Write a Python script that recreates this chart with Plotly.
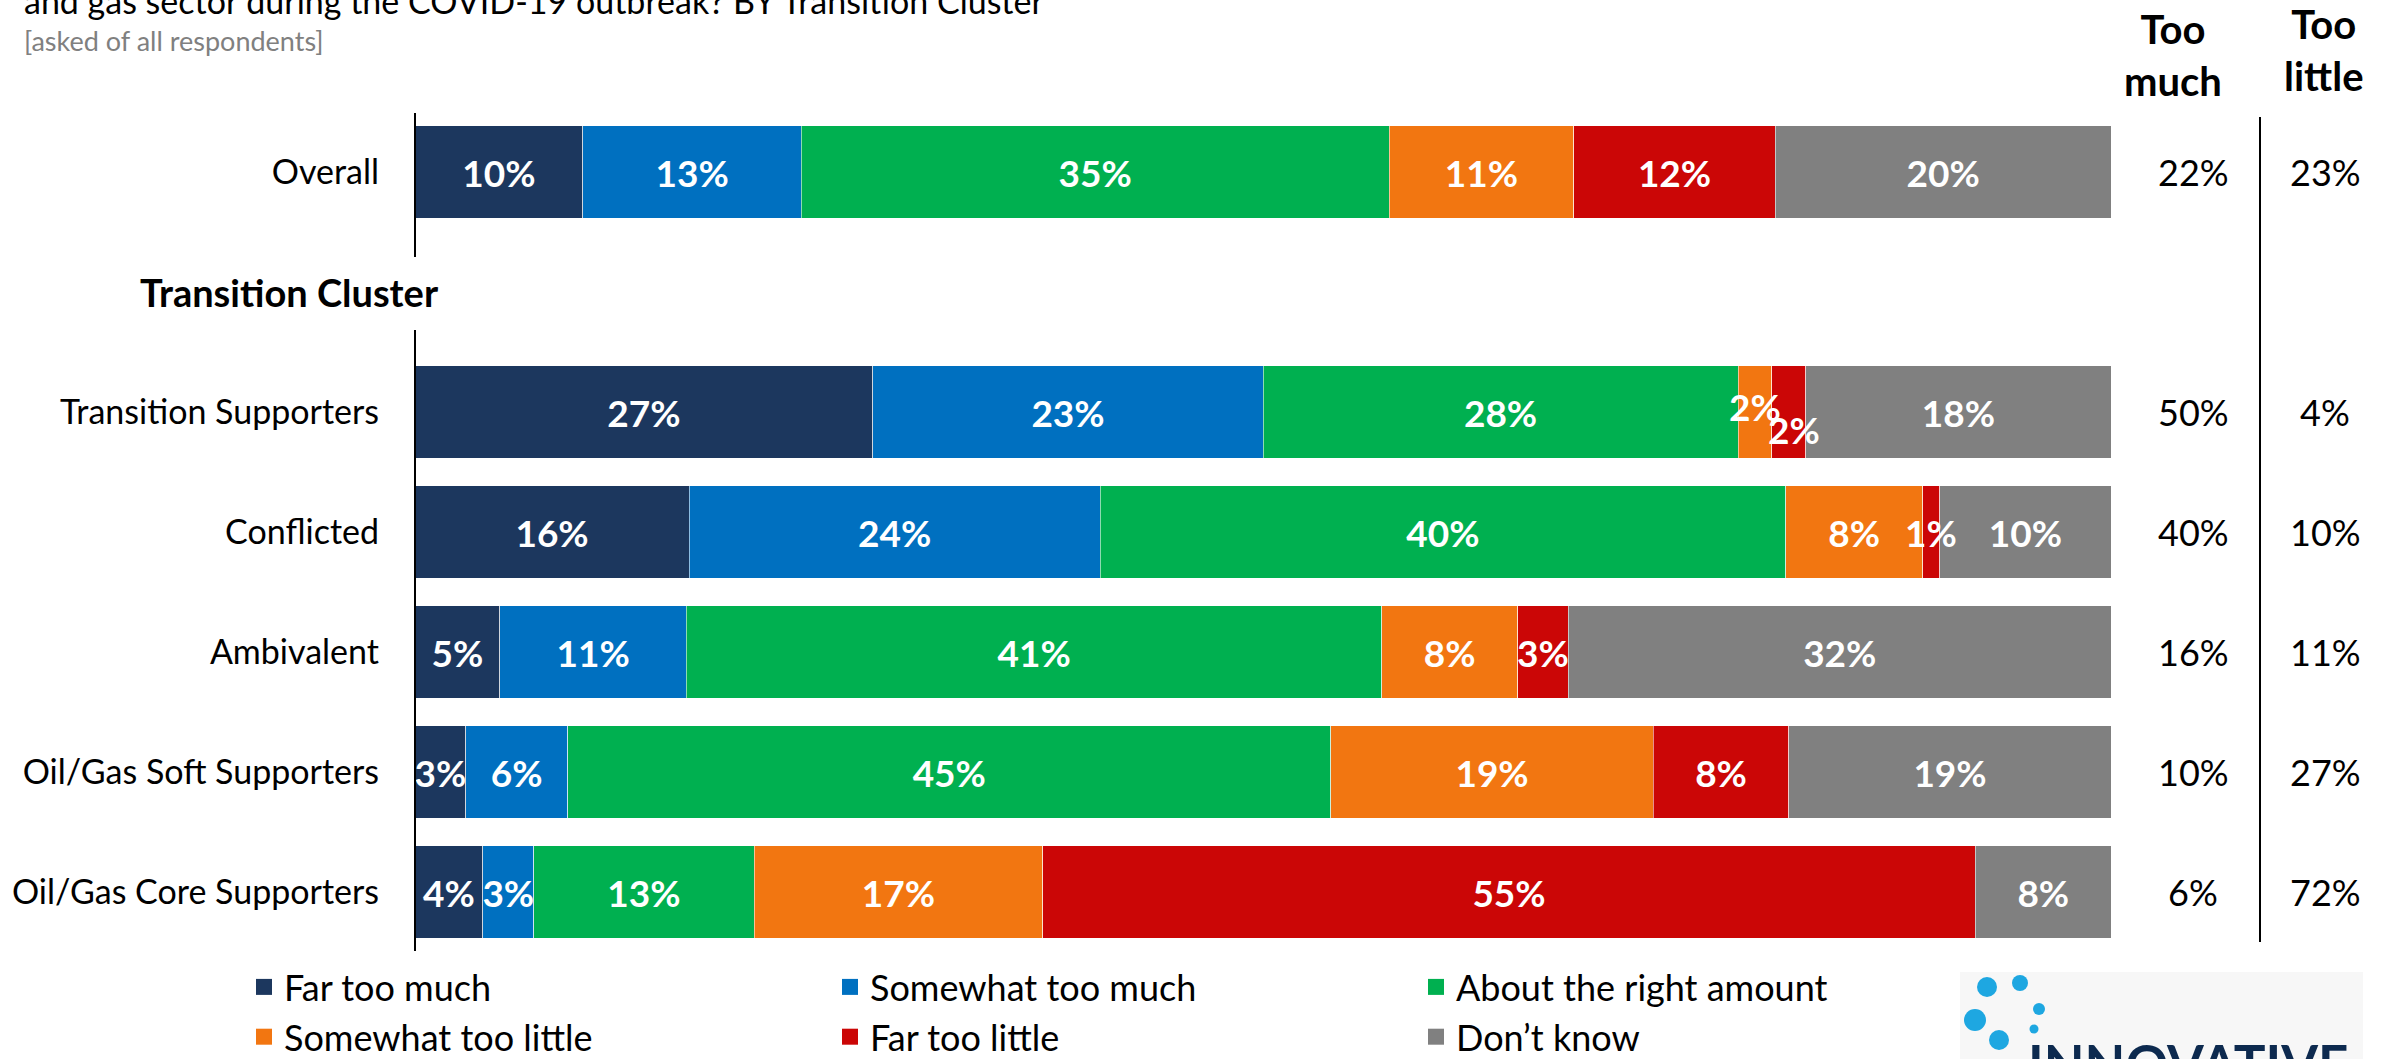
import plotly.graph_objects as go

# ---------------- data ----------------
categories = ["Overall", "Transition Supporters", "Conflicted", "Ambivalent",
              "Oil/Gas Soft Supporters", "Oil/Gas Core Supporters"]
row_pos = [0, 2, 3, 4, 5, 6]          # slot 1 holds the "Transition Cluster" heading

series_names = ["Far too much", "Somewhat too much", "About the right amount",
                "Somewhat too little", "Far too little", "Don\u2019t know"]
far_too_much = [10, 27, 16, 5, 3, 4]
somewhat_too_much = [13, 23, 24, 11, 6, 3]
about_right = [35, 28, 40, 41, 45, 13]
somewhat_too_little = [11, 2, 8, 8, 19, 17]
far_too_little = [12, 2, 1, 3, 8, 55]
dont_know = [20, 18, 10, 32, 19, 8]

too_much_total = [22, 50, 40, 16, 10, 6]
too_little_total = [23, 4, 10, 11, 27, 72]

title_text = "and gas sector during the COVID-19 outbreak? BY Transition Cluster"
subtitle_text = "[asked of all respondents]"
group_heading = "Transition Cluster"
col_headers = ["Too<br>much", "Too<br>little"]
logo_text = "INNOVATIVE"

# ---------------- style ----------------
colors = ["#1c375e", "#0070c0", "#00b050", "#f27611", "#cb0606", "#808080"]
FONT = "Lato"
W, H = 2384, 1059
L, R, T, B = 415, 272, 112, 107
PW, PH = W - L - R, H - T - B
BAR_TXT = 37

def pxx(x):
    return (x - L) / PW

def pxy(y):
    return (H - B - y) / PH

# labels drawn on top as annotations (series index, row index, y-shift px, x-shift px)
overlay_labels = [(3, 1, 6, 0), (4, 1, -17, 5), (4, 2, 0, 0)]

series = [far_too_much, somewhat_too_much, about_right,
          somewhat_too_little, far_too_little, dont_know]

fig = go.Figure()
for si, (name, vals, col) in enumerate(zip(series_names, series, colors)):
    texts = [f"{v}%" for v in vals]
    for (s, r, _, _) in overlay_labels:
        if s == si:
            texts[r] = ""
    fig.add_trace(go.Bar(
        name=name, y=row_pos, x=vals, orientation="h", showlegend=False,
        marker=dict(color=col, line=dict(color="rgba(255,255,255,0.55)", width=1)),
        text=texts, texttemplate="%{text}", textposition="inside",
        insidetextanchor="middle", textangle=0, constraintext="none",
        cliponaxis=False,
        textfont=dict(family=FONT, size=BAR_TXT, color="white", weight="bold"),
        hoverinfo="skip",
    ))
# legend entries (square swatches)
for name, col in zip(series_names, colors):
    fig.add_trace(go.Scatter(
        name=name, x=[None], y=[None], mode="markers",
        marker=dict(symbol="square", size=20, color=col), hoverinfo="skip"))

annotations = []
for (s, r, ys, xs) in overlay_labels:
    total = sum(series[k][r] for k in range(len(series)))
    start = sum(series[k][r] for k in range(s)) / total * 100
    width = series[s][r] / total * 100
    annotations.append(dict(
        x=start + width / 2, y=row_pos[r], xref="x", yref="y",
        xanchor="center", yanchor="middle",
        text=f"{series[s][r]}%", showarrow=False, yshift=ys, xshift=xs,
        font=dict(family=FONT, size=BAR_TXT, color="white", weight="bold")))

# right-hand summary columns
for i, rp in enumerate(row_pos):
    annotations.append(dict(x=pxx(2193), y=rp, xref="paper", yref="y",
                            xanchor="center", yanchor="middle",
                            text=f"{too_much_total[i]}%", showarrow=False,
                            font=dict(family=FONT, size=36, color="black")))
    annotations.append(dict(x=pxx(2325), y=rp, xref="paper", yref="y",
                            xanchor="center", yanchor="middle",
                            text=f"{too_little_total[i]}%", showarrow=False,
                            font=dict(family=FONT, size=36, color="black")))
annotations.append(dict(x=pxx(2173), y=pxy(55), xref="paper", yref="paper",
                        xanchor="center", yanchor="middle",
                        text=f"<b>{col_headers[0]}</b>", showarrow=False,
                        font=dict(family=FONT, size=40, color="black")))
annotations.append(dict(x=pxx(2324), y=pxy(50), xref="paper", yref="paper",
                        xanchor="center", yanchor="middle",
                        text=f"<b>{col_headers[1]}</b>", showarrow=False,
                        font=dict(family=FONT, size=40, color="black")))

annotations.append(dict(x=pxx(289), y=1, xref="paper", yref="y",
                        xanchor="center", yanchor="middle",
                        text=f"<b>{group_heading}</b>", showarrow=False,
                        font=dict(family=FONT, size=38, color="black")))

annotations.append(dict(x=pxx(22), y=pxy(23), xref="paper", yref="paper",
                        xanchor="left", yanchor="bottom", text=title_text,
                        showarrow=False,
                        font=dict(family=FONT, size=34, color="black")))
annotations.append(dict(x=pxx(22), y=pxy(40), xref="paper", yref="paper",
                        xanchor="left", yanchor="middle", text=subtitle_text,
                        showarrow=False,
                        font=dict(family=FONT, size=27, color="#808080")))

# logo (partially cropped at the bottom)
annotations.append(dict(x=pxx(2026), y=pxy(1030), xref="paper", yref="paper",
                        xanchor="left", yanchor="top", text=f"<b>{logo_text}</b>",
                        showarrow=False,
                        font=dict(family=FONT, size=53, color="#0d2a4f")))

shapes = [
    dict(type="line", xref="paper", yref="paper", x0=0, x1=0,
         y0=pxy(113), y1=pxy(257), line=dict(color="black", width=2)),
    dict(type="line", xref="paper", yref="paper", x0=0, x1=0,
         y0=pxy(330), y1=pxy(951), line=dict(color="black", width=2)),
    dict(type="line", xref="paper", yref="paper", x0=pxx(2260), x1=pxx(2260),
         y0=pxy(117), y1=pxy(942), line=dict(color="black", width=2)),
    dict(type="rect", xref="paper", yref="paper", x0=pxx(1960), x1=pxx(2363),
         y0=pxy(972), y1=pxy(1080), fillcolor="#f7f7f7", line=dict(width=0),
         layer="below"),
]
for (cx, cy, r) in [(1987, 987, 10), (2020, 983, 8), (2039, 1009, 6),
                    (1975, 1020, 11), (2034, 1029, 4.5), (1999, 1040, 10)]:
    shapes.append(dict(type="circle", xref="paper", yref="paper",
                       x0=pxx(cx - r), x1=pxx(cx + r), y0=pxy(cy + r), y1=pxy(cy - r),
                       fillcolor="#1ea7e1", line=dict(width=0)))

fig.update_layout(
    width=W, height=H, autosize=False,
    barmode="stack", barnorm="percent", bargap=0.233,
    paper_bgcolor="white", plot_bgcolor="white",
    margin=dict(l=L, r=R, t=T, b=B, autoexpand=False),
    font=dict(family=FONT, color="black"),
    xaxis=dict(visible=False, range=[0, 100.05], fixedrange=True),
    yaxis=dict(range=[6.5, -0.5], tickvals=row_pos, ticktext=categories,
               showgrid=False, zeroline=False, showline=False, ticks="",
               ticklabelstandoff=35, fixedrange=True,
               tickfont=dict(family=FONT, size=34, color="black")),
    legend=dict(orientation="h", x=pxx(244), y=pxy(957), xanchor="left",
                yanchor="top", entrywidth=541, entrywidthmode="pixels",
                itemsizing="trace",
                font=dict(family=FONT, size=36, color="black"),
                traceorder="normal", bgcolor="rgba(0,0,0,0)"),
    annotations=annotations,
    shapes=shapes,
    showlegend=True,
)

fig.write_html("out.html", config={"displayModeBar": False},
               post_script="document.body.style.margin='0px';")
